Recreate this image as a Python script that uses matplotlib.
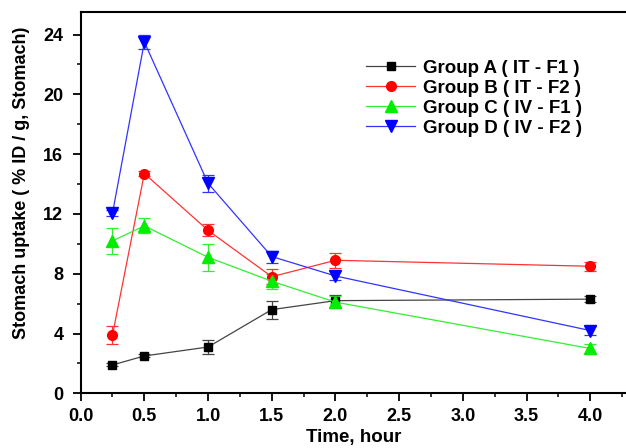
import numpy as np
import matplotlib.pyplot as plt

plt.rcParams['font.family'] = ['Liberation Sans', 'DejaVu Sans']
plt.rcParams['font.weight'] = 'bold'

# Datos (tiempo en horas)
time = [0.25, 0.5, 1.0, 1.5, 2.0, 4.0]

group_a = [1.9, 2.5, 3.1, 5.6, 6.2, 6.3]
group_a_err = [0.1, 0.1, 0.5, 0.6, 0.4, 0.2]

group_b = [3.9, 14.7, 10.9, 7.8, 8.9, 8.5]
group_b_err = [0.6, 0.15, 0.4, 0.5, 0.5, 0.3]

group_c = [10.2, 11.2, 9.1, 7.5, 6.1, 3.0]
group_c_err = [0.85, 0.5, 0.9, 0.5, 0.4, 0.3]

group_d = [12.05, 23.5, 14.05, 9.15, 7.85, 4.2]
group_d_err = [0.2, 0.5, 0.55, 0.4, 0.3, 0.3]

labels = ['Group A ( IT - F1 )', 'Group B ( IT - F2 )',
          'Group C ( IV - F1 )', 'Group D ( IV - F2 )']

fig = plt.figure(figsize=(6.26, 4.48), dpi=100)
ax = fig.add_axes([0.1288, 0.122, 0.8712, 0.851])

series = [
    (group_a, group_a_err, 's', 'black', '#444444', 6),
    (group_b, group_b_err, 'o', '#ff0000', '#ff3333', 7),
    (group_c, group_c_err, '^', '#00ee00', '#33ee33', 8),
    (group_d, group_d_err, 'v', '#0000ff', '#3333ff', 8),
]

handles = []
for (vals, err, mk, mcol, lcol, ms), lab in zip(series, labels):
    ax.errorbar(time, vals, yerr=err, fmt='none', ecolor=lcol, elinewidth=0.9,
                capsize=4, capthick=0.9, zorder=2)
    h, = ax.plot(time, vals, color=lcol, lw=0.9, marker=mk, markersize=ms,
                 markerfacecolor=mcol, markeredgecolor=mcol, label=lab, zorder=3)
    handles.append(h)

ax.set_xlim(0, 4.28)
ax.set_ylim(0, 25.5)
ax.set_xticks(np.arange(0, 4.01, 0.5))
ax.set_xticks(np.arange(0, 4.3, 0.25), minor=True)
ax.set_yticks(np.arange(0, 25, 4))
ax.set_yticks(np.arange(0, 25.5, 2), minor=True)

ax.tick_params(which='major', direction='out', length=5.5, width=1.3,
               labelsize=13, pad=5)
ax.tick_params(axis='y', which='major', pad=7)
ax.tick_params(which='minor', direction='out', length=3, width=1.1)
for lbl in ax.get_xticklabels() + ax.get_yticklabels():
    lbl.set_fontweight('bold')

for side in ['left', 'bottom', 'top']:
    ax.spines[side].set_linewidth(1.5)
ax.spines['right'].set_visible(False)

ax.set_xlabel('Time, hour', fontsize=13.5, fontweight='bold', labelpad=3)
ax.set_ylabel('Stomach uptake ( % ID / g, Stomach)', fontsize=13,
              fontweight='bold')
ax.yaxis.set_label_coords(-0.093, 0.552)

leg = ax.legend(handles=handles, loc='upper left', bbox_to_anchor=(0.51, 0.895),
                frameon=False, prop={'size': 13.5, 'weight': 'bold'},
                handlelength=2.6, handletextpad=0.4, labelspacing=0.15,
                borderaxespad=0)

fig.savefig('out.png', dpi=100)
